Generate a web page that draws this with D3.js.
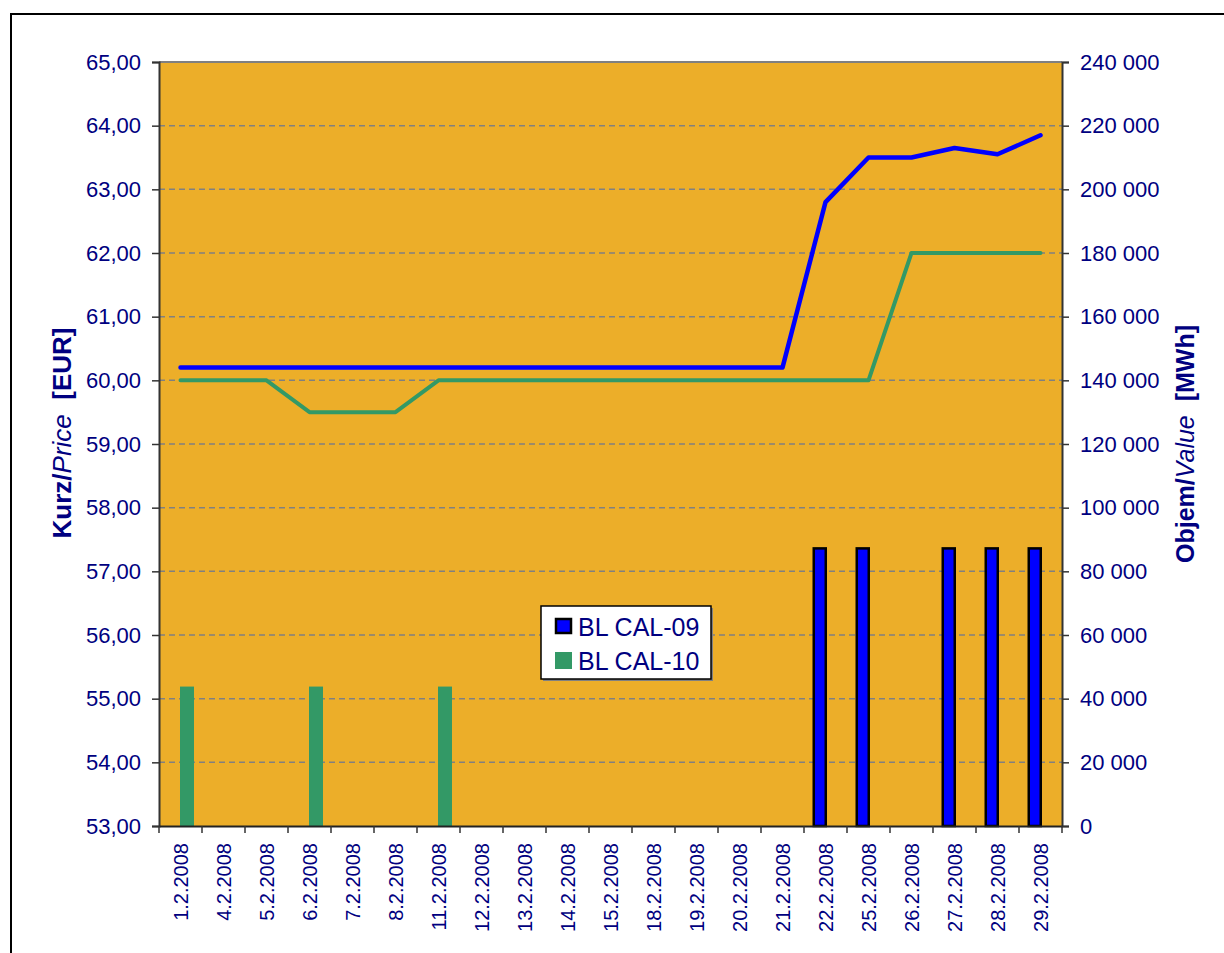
<!DOCTYPE html>
<html><head><meta charset="utf-8">
<script src="https://cdn.jsdelivr.net/npm/d3@7/dist/d3.min.js"></script>
<style>body{margin:0;background:#fff;} svg{display:block;font-family:"Liberation Sans",Arial,sans-serif;}</style>
</head><body>
<svg id="c" width="1224" height="953"></svg>
<script>
const categories = ["1.2.2008","4.2.2008","5.2.2008","6.2.2008","7.2.2008","8.2.2008","11.2.2008","12.2.2008","13.2.2008","14.2.2008","15.2.2008","18.2.2008","19.2.2008","20.2.2008","21.2.2008","22.2.2008","25.2.2008","26.2.2008","27.2.2008","28.2.2008","29.2.2008"];
const priceCal09 = [60.2,60.2,60.2,60.2,60.2,60.2,60.2,60.2,60.2,60.2,60.2,60.2,60.2,60.2,60.2,62.8,63.5,63.5,63.65,63.55,63.85];
const priceCal10 = [60,60,60,59.5,59.5,59.5,60,60,60,60,60,60,60,60,60,60,60,62,62,62,62];
const volumeCal09 = [0,0,0,0,0,0,0,0,0,0,0,0,0,0,0,87600,87600,0,87600,87600,87600];
const volumeCal10 = [43800,0,0,43800,0,0,43800,0,0,0,0,0,0,0,0,0,0,0,0,0,0];
const seriesNames = ["BL CAL-09","BL CAL-10"];
const leftTicks = [53,54,55,56,57,58,59,60,61,62,63,64,65];
const rightTicks = [0,20000,40000,60000,80000,100000,120000,140000,160000,180000,200000,220000,240000];

const svg = d3.select("#c");
const L=159, R=1062, T=62, B=826;
const navy="#000080", blue="#0000FF", green="#339966", bg="#ECAE29";

// outer border
svg.append("rect").attr("x",11).attr("y",14).attr("width",1230).attr("height",960)
  .attr("fill","#fff").attr("stroke","#000").attr("stroke-width",2);

const x = d3.scaleBand().domain(categories).range([L,R]).padding(0);
const sub = d3.scaleBand().domain(seriesNames).range([-13,13]).padding(0);
const yL = d3.scaleLinear().domain([53,65]).range([B,T]);
const yR = d3.scaleLinear().domain([0,240000]).range([B,T]);
const cx = d => x(d)+x.bandwidth()/2;

// plot bg
svg.append("rect").attr("x",L).attr("y",T).attr("width",R-L).attr("height",B-T).attr("fill",bg);

// grid
svg.append("g").selectAll("line").data(leftTicks.filter(t=>t>53&&t<65)).join("line")
  .attr("x1",L).attr("x2",R).attr("y1",d=>yL(d)).attr("y2",d=>yL(d))
  .attr("stroke","#808080").attr("stroke-width",1.5).attr("stroke-dasharray","6,4");
// top border
svg.append("line").attr("x1",L).attr("x2",R).attr("y1",T).attr("y2",T).attr("stroke","#808080").attr("stroke-width",2);

// bars
const bars = svg.append("g");
bars.selectAll("rect.b9").data(categories.map((c,i)=>({c,v:volumeCal09[i]})).filter(d=>d.v>0)).join("rect")
  .attr("x",d=>cx(d.c)+sub("BL CAL-09")+1.25).attr("width",sub.bandwidth()-1)
  .attr("y",d=>yR(d.v)+1.25).attr("height",d=>B-yR(d.v)-1.25)
  .attr("fill",blue).attr("stroke","#000").attr("stroke-width",2.5);
bars.selectAll("rect.b10").data(categories.map((c,i)=>({c,v:volumeCal10[i]})).filter(d=>d.v>0)).join("rect")
  .attr("x",d=>cx(d.c)+sub("BL CAL-10")-0.5).attr("width",sub.bandwidth()+1)
  .attr("y",d=>yR(d.v)).attr("height",d=>B-yR(d.v))
  .attr("fill",green);

// lines
const line = d3.line().x((d,i)=>cx(categories[i])).y(d=>yL(d));
svg.append("path").datum(priceCal10).attr("d",line).attr("fill","none").attr("stroke",green).attr("stroke-width",4).attr("stroke-linejoin","round").attr("stroke-linecap","round");
svg.append("path").datum(priceCal09).attr("d",line).attr("fill","none").attr("stroke",blue).attr("stroke-width",4.5).attr("stroke-linejoin","round").attr("stroke-linecap","round");

// axes
const fmtL = d => d3.format(".2f")(d).replace(".",",");
const fmtR = d => d3.format(",")(d).replace(/,/g," ");
const gl = svg.append("g").attr("transform",`translate(${L},0)`)
  .call(d3.axisLeft(yL).tickValues(leftTicks).tickFormat(fmtL).tickSize(7).tickPadding(11));
const gr = svg.append("g").attr("transform",`translate(${R},0)`)
  .call(d3.axisRight(yR).tickValues(rightTicks).tickFormat(fmtR).tickSize(7).tickPadding(11));
const gx = svg.append("g").attr("transform",`translate(0,${B})`)
  .call(d3.axisBottom(x).tickSize(0).tickPadding(0).tickFormat(""));
[gl,gr].forEach(g=>{
  g.select(".domain").attr("stroke","#333").attr("stroke-width",2);
  g.selectAll(".tick line").attr("stroke","#333").attr("stroke-width",1.5);
  g.selectAll(".tick text").attr("fill",navy).attr("font-size",22).attr("font-family","Liberation Sans, Arial, sans-serif");
});
gx.select(".domain").attr("stroke","#222").attr("stroke-width",2);
// x boundary ticks
const bounds = categories.map(c=>x(c)).concat([R]);
svg.append("g").selectAll("line").data(bounds).join("line")
  .attr("x1",d=>d).attr("x2",d=>d).attr("y1",B).attr("y2",B+7).attr("stroke","#333").attr("stroke-width",1.5);
// x labels
svg.append("g").selectAll("text").data(categories).join("text")
  .attr("transform",d=>`translate(${cx(d)+7},${843}) rotate(-90)`)
  .attr("text-anchor","end").attr("fill",navy).attr("font-size",20).text(d=>d);

// axis titles
function title(xp,yp,fs,parts){
  const t = svg.append("text").attr("transform",`translate(${xp},${yp}) rotate(-90)`)
    .attr("text-anchor","middle").attr("fill",navy).attr("font-size",fs);
  parts.forEach(p=>t.append("tspan").attr("font-weight",p[1]?"bold":"normal").attr("font-style",p[2]?"italic":"normal").attr("xml:space","preserve").text(p[0]));
}
title(71,433,26,[["Kurz/",1,0],["Price",0,1],["  [EUR]",1,0]]);
title(1194,444,25,[["Objem/",1,0],["Value",0,1],["  [MWh]",1,0]]);

// legend
const lg = svg.append("g");
lg.append("rect").attr("x",543).attr("y",608).attr("width",170).attr("height",73).attr("fill","#808080");
lg.append("rect").attr("x",541).attr("y",606).attr("width",170).attr("height",73).attr("fill","#fff").attr("stroke","#000").attr("stroke-width",1.5);
lg.append("rect").attr("x",556).attr("y",619).attr("width",15).attr("height",14).attr("fill",blue).attr("stroke","#000").attr("stroke-width",2.5);
lg.append("rect").attr("x",555).attr("y",652).attr("width",17).attr("height",17).attr("fill",green);
lg.selectAll("text").data(seriesNames).join("text")
  .attr("x",578).attr("y",(d,i)=>636+i*34).attr("fill",navy).attr("font-size",25).text(d=>d);
</script>
</body></html>
